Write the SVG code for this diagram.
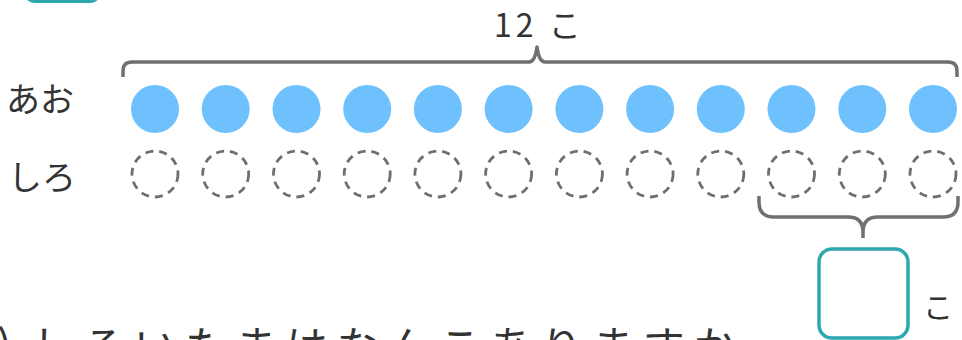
<svg xmlns="http://www.w3.org/2000/svg" width="962" height="340" viewBox="0 0 962 340">
<style>
.t{font-family:"Noto Sans CJK JP","Noto Sans",sans-serif;fill:#333}
.blue{fill:#6ec1fd}
.dash{fill:none;stroke:#6e6e6e;stroke-width:2.8;stroke-dasharray:8 6}
.brace{fill:none;stroke:#707070;stroke-width:3.5;stroke-linecap:butt;stroke-linejoin:round}
</style>
<rect x="25" y="-30" width="75" height="33" rx="9" fill="#2ea8b0"/>
<g id="total-label"><text class="t" x="494" y="37" font-size="32" letter-spacing="4">12 こ</text></g>
<g id="connectors">
<path class="brace" d="M123,77 v-6 q0,-9 9,-9 H529 q6,0 8,-15 q2,15 8,15 H948 q9,0 9,9 v6"/>
<path class="brace" d="M759,196 v6 q0,15 15,15 H848 q15,0 15,15 v6 m0,-6 q0,-15 15,-15 H943 q15,0 15,-15 v-6"/>
</g>
<g id="label-ao"><text class="t" x="6" y="112" font-size="34">あお</text></g>
<g id="label-shiro"><text class="t" x="8" y="190" font-size="34">しろ</text></g>
<g id="blue-row">
<circle class="blue" cx="155" cy="109" r="24"/>
<circle class="blue" cx="225.7" cy="109" r="24"/>
<circle class="blue" cx="296.5" cy="109" r="24"/>
<circle class="blue" cx="367.2" cy="109" r="24"/>
<circle class="blue" cx="437.9" cy="109" r="24"/>
<circle class="blue" cx="508.6" cy="109" r="24"/>
<circle class="blue" cx="579.4" cy="109" r="24"/>
<circle class="blue" cx="650.1" cy="109" r="24"/>
<circle class="blue" cx="720.8" cy="109" r="24"/>
<circle class="blue" cx="791.5" cy="109" r="24"/>
<circle class="blue" cx="862.3" cy="109" r="24"/>
<circle class="blue" cx="933" cy="109" r="24"/>
</g>
<g id="white-row">
<circle class="dash" cx="155" cy="174" r="23"/>
<circle class="dash" cx="225.7" cy="174" r="23"/>
<circle class="dash" cx="296.5" cy="174" r="23"/>
<circle class="dash" cx="367.2" cy="174" r="23"/>
<circle class="dash" cx="437.9" cy="174" r="23"/>
<circle class="dash" cx="508.6" cy="174" r="23"/>
<circle class="dash" cx="579.4" cy="174" r="23"/>
<circle class="dash" cx="650.1" cy="174" r="23"/>
<circle class="dash" cx="720.8" cy="174" r="23"/>
<circle class="dash" cx="791.5" cy="174" r="23"/>
<circle class="dash" cx="862.3" cy="174" r="23"/>
<circle class="dash" cx="933" cy="174" r="23"/>
</g>
<g id="answer-box">
<rect x="819" y="249" width="89" height="89" rx="13" fill="#fff" stroke="#2ea8b0" stroke-width="3.5"/>
<text class="t" x="923" y="318" font-size="30">こ</text>
</g>
<g id="question">
<text class="t" x="12" y="362" font-size="44" text-anchor="end">(2)</text>
<text class="t" x="32" y="362" font-size="42" letter-spacing="9">しろいたまはなんこありますか</text>
</g>
</svg>
